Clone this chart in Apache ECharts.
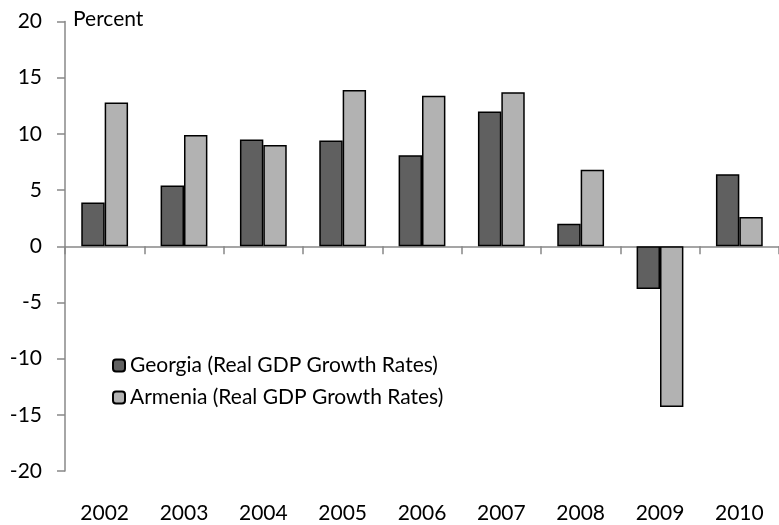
<!DOCTYPE html>
<html><head><meta charset="utf-8">
<script src="https://cdn.jsdelivr.net/npm/echarts@6/dist/echarts.min.js"></script>
<style>html,body{margin:0;padding:0;background:#fff}#c{width:779px;height:525px}</style>
</head><body><div id="c"></div>
<script>
const years = ['2002','2003','2004','2005','2006','2007','2008','2009','2010'];
const georgia = [3.9, 5.4, 9.5, 9.4, 8.1, 12.0, 2.0, -3.8, 6.4];
const armenia = [12.8, 9.9, 9.0, 13.9, 13.4, 13.7, 6.8, -14.3, 2.6];
const seriesNames = ['Georgia (Real GDP Growth Rates)', 'Armenia (Real GDP Growth Rates)'];
const yTicks = {min: -20, max: 20, interval: 5};

const FONT = 'Lato';
const FS = 21;
const chart = echarts.init(document.getElementById('c'));
chart.setOption({
  animation: false,
  textStyle: {fontFamily: FONT},
  grid: {left: 65, right: -2, top: 21.5, bottom: 54},
  legend: {
    orient: 'vertical', left: 107, top: 350, itemWidth: 12, itemHeight: 12, itemGap: 11,
    textStyle: {fontSize: FS, color: '#000', fontFamily: FONT},
    data: seriesNames
  },
  graphic: [{type: 'text', left: 73, top: 9, style: {text: 'Percent', fontSize: FS, fill: '#000', fontFamily: FONT}}],
  xAxis: [
    {type: 'category', data: years, position: 'bottom',
     axisLine: {show: false, onZero: false}, axisTick: {show: false},
     axisLabel: {fontSize: FS, color: '#000', margin: 32}},
    {type: 'category', data: years, position: 'bottom',
     axisLine: {show: true, onZero: true, lineStyle: {color: '#888', width: 1.5}},
     axisTick: {show: true, length: 8, lineStyle: {color: '#888', width: 1.5}},
     axisLabel: {show: false}}
  ],
  yAxis: {
    type: 'value', min: yTicks.min, max: yTicks.max, interval: yTicks.interval,
    axisLine: {show: true, lineStyle: {color: '#888', width: 1.5}},
    axisTick: {show: true, length: 8, lineStyle: {color: '#888', width: 1.5}},
    splitLine: {show: false},
    axisLabel: {fontSize: FS, color: '#000', margin: 23}
  },
  series: [
    {name: seriesNames[0], type: 'bar', data: georgia, xAxisIndex: 1,
     barGap: '0%', barCategoryGap: '41%',
     itemStyle: {color: '#606060', borderColor: '#000', borderWidth: 1.5}},
    {name: seriesNames[1], type: 'bar', data: armenia, xAxisIndex: 1,
     itemStyle: {color: '#b2b2b2', borderColor: '#000', borderWidth: 1.5}}
  ]
});
</script></body></html>
